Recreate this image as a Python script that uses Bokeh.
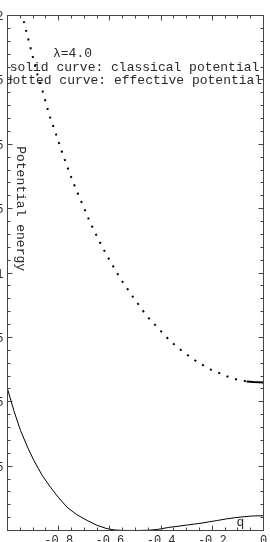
import math
from bokeh.plotting import figure
from bokeh.models import (Range1d, LinearAxis, SingleIntervalTicker, FixedTicker, Label,
                          CustomJSTickFormatter)
from bokeh.embed import file_html
from bokeh.resources import INLINE

# ---- data ----
q_classical = [-1.0, -0.975, -0.949, -0.92, -0.897, -0.865, -0.832, -0.8, -0.767, -0.73,
               -0.689, -0.65, -0.611, -0.58, -0.55, -0.5, -0.45, -0.415, -0.37, -0.33,
               -0.30, -0.27, -0.24, -0.21, -0.18, -0.145, -0.11, -0.08, -0.05, -0.025, 0.0]
v_classical = [0.0550, 0.0465, 0.0388, 0.0320, 0.0272, 0.0215, 0.0168, 0.0127, 0.0090, 0.0062,
               0.0039, 0.0020, 0.0007, 0.0002, 0.00003, 0.0, 0.0001, 0.0004, 0.0012, 0.0017,
               0.0021, 0.0025, 0.0029, 0.0034, 0.0039, 0.0045, 0.0050, 0.0053, 0.0056, 0.0057, 0.0057]

q_effective = [-0.945, -0.940, -0.922, -0.904, -0.887, -0.8645, -0.835, -0.811, -0.788,
               -0.763, -0.737, -0.708, -0.679, -0.646, -0.612, -0.574, -0.5535,
               -0.5105, -0.4648, -0.441, -0.415, -0.388, -0.361, -0.332, -0.302,
               -0.271, -0.238, -0.206, -0.172, -0.138, -0.103, -0.066]
v_effective = [0.2012, 0.1991, 0.1920, 0.1851, 0.1783, 0.1712, 0.1608, 0.1541, 0.1472,
               0.1403, 0.1336, 0.1269, 0.1200, 0.1133, 0.1068, 0.1003, 0.0970,
               0.0908, 0.0845, 0.0816, 0.0790, 0.0760, 0.0733, 0.0708, 0.0685,
               0.0663, 0.0643, 0.0625, 0.0611, 0.0597, 0.0586, 0.0579]

q_effective_end = [-0.066, -0.04, -0.02, 0.0]
v_effective_end = [0.0579, 0.0577, 0.0576, 0.0575]

x_tick_values = [-0.8, -0.6, -0.4, -0.2, 0.0]
x_tick_labels = ["-0.8", "-0.6", "-0.4", "-0.2", "0"]
y_tick_values = [0.025, 0.05, 0.075, 0.1, 0.125, 0.15, 0.175, 0.2]
y_tick_labels = ["0.025", "0.05", "0.075", "0.1", "0.125", "0.15", "0.175", "0.2"]

FONT = "Liberation Mono"
TEXT_COLOR = "#2a2a2a"
AXIS_COLOR = "#444444"

# The reference is a crop of a larger picture: the left tick labels and the bottom
# of the x tick labels fall outside the 270x542 window.
SHIFT_LEFT = 43          # canvas px hidden to the left of the window
W = 270 + SHIFT_LEFT
H = 560                  # bottom part falls below the window
p = figure(width=W, height=H, x_range=Range1d(-1, 0), y_range=Range1d(0, 0.2),
           output_backend="svg", toolbar_location=None,
           x_axis_location=None, y_axis_location=None,
           min_border_left=50, min_border_right=7, min_border_top=15, min_border_bottom=30,
           styles={"position": "fixed", "left": f"-{SHIFT_LEFT}px", "top": "0px"})
p.grid.visible = False
p.outline_line_color = None
p.background_fill_color = "white"
p.border_fill_color = "white"

blank = CustomJSTickFormatter(code="return ''")


def make_axis(major, interval, minors, labels=None):
    ax = LinearAxis(ticker=FixedTicker(ticks=major,
                                       minor_ticks=[round(-1 + i * interval / minors, 6)
                                                    for i in range(int(round((1 if interval > 0.1 else 0.2) / interval * minors)) + 1)]
                                       if interval > 0.1 else
                                       [round(i * interval / minors, 6)
                                        for i in range(int(round(0.2 / interval * minors)) + 1)]),
                    major_label_standoff=4,
                    major_label_text_font=FONT, major_label_text_font_size="12px",
                    major_label_text_color=TEXT_COLOR,
                    major_tick_in=5, major_tick_out=0,
                    minor_tick_in=3, minor_tick_out=0,
                    axis_line_color=AXIS_COLOR, major_tick_line_color=AXIS_COLOR,
                    minor_tick_line_color=AXIS_COLOR)
    if labels is None:
        ax.formatter = blank
        ax.major_label_standoff = 0
        ax.major_label_text_font_size = "0px"
    else:
        ax.major_label_overrides = labels
    return ax


x_major = [-1.0] + x_tick_values
y_major = [0.0] + y_tick_values
x_labels = {-1.0: ""}
x_labels.update({v: t for v, t in zip(x_tick_values, x_tick_labels)})
y_labels = {0.0: ""}
y_labels.update({v: t for v, t in zip(y_tick_values, y_tick_labels)})

p.add_layout(make_axis(x_major, 0.2, 4, x_labels), "below")
p.add_layout(make_axis(x_major, 0.2, 4), "above")
p.add_layout(make_axis(y_major, 0.025, 5, y_labels), "left")
p.add_layout(make_axis(y_major, 0.025, 5), "right")

# curves
p.line(q_classical, v_classical, line_color="black", line_width=1)
p.line(q_effective, v_effective, line_color="black", line_width=2, line_dash="2 7")
p.line(q_effective_end, v_effective_end, line_color="black", line_width=2)

# annotations
common = dict(text_font=FONT, text_font_size="13px", text_color=TEXT_COLOR,
              text_align="center", text_baseline="middle")
p.add_layout(Label(x=-0.746, y=0.1852, text="λ=4.0", **common))
p.add_layout(Label(x=-0.504, y=0.1798, text="solid curve: classical potential", **common))
p.add_layout(Label(x=-0.508, y=0.1748, text="dotted curve: effective potential", **common))
p.add_layout(Label(x=-0.949, y=0.125, text="Potential energy", angle=-math.pi / 2, **common))
p.add_layout(Label(x=-0.09, y=0.0031, text="q", **common))

open("out.html", "w").write(file_html(p, INLINE))
